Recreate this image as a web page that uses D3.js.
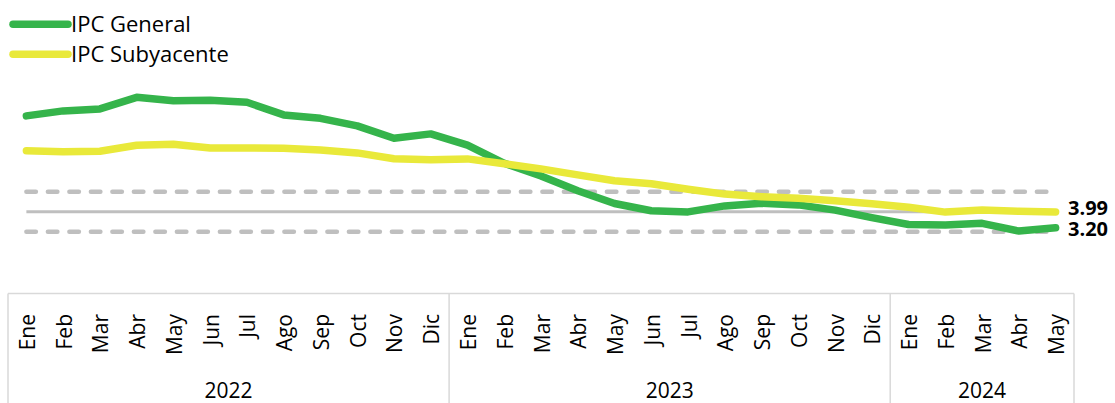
<!DOCTYPE html>
<html>
<head>
<meta charset="utf-8">
<script src="https://cdn.jsdelivr.net/npm/d3@7"></script>
<style>
  html, body { margin: 0; padding: 0; background: #fff; }
  svg { display: block; font-family: "Segoe UI", "Open Sans", "Noto Sans", sans-serif; }
</style>
</head>
<body>
<svg id="chart" width="1115" height="403"></svg>
<script>
// ---- data ----
const months = ["Ene","Feb","Mar","Abr","May","Jun","Jul","Ago","Sep","Oct","Nov","Dic",
                "Ene","Feb","Mar","Abr","May","Jun","Jul","Ago","Sep","Oct","Nov","Dic",
                "Ene","Feb","Mar","Abr","May"];
const years = [
  { label: "2022", count: 12 },
  { label: "2023", count: 12 },
  { label: "2024", count: 5 }
];
const ipcGeneral = [8.79, 9.04, 9.14, 9.72, 9.55, 9.57, 9.47, 8.84, 8.67, 8.29, 7.67, 7.89,
                    7.33, 6.42, 5.79, 5.05, 4.41, 4.05, 3.99, 4.29, 4.42, 4.34, 4.08, 3.70,
                    3.36, 3.33, 3.42, 3.03, 3.20];
const ipcSubyacente = [7.05, 7.00, 7.02, 7.32, 7.37, 7.19, 7.19, 7.17, 7.09, 6.94, 6.65, 6.60,
                       6.64, 6.40, 6.14, 5.84, 5.55, 5.40, 5.12, 4.88, 4.75, 4.67, 4.55, 4.40,
                       4.22, 3.98, 4.08, 4.02, 3.99];
const targetUpper = 5;
const targetCenter = 4;
const targetLower = 3;
const seriesNames = ["IPC General", "IPC Subyacente"];
const endLabels = ["3.99", "3.20"];

// ---- layout ----
const svg = d3.select("#chart");
const green = "#35b44b";
const yellow = "#e9e93a";
const gray = "#bfbfbf";
const axisGray = "#d9d9d9";

const idx = d3.range(months.length);
const x = d3.scaleBand().domain(idx).range([8, 1074]).padding(0);
const cx = i => x(i) + x.bandwidth() / 2;
const y = d3.scaleLinear().domain([0, 10]).range([291.7, 91.7]);

// target band lines
const bandLine = v => d3.line().x(i => cx(i)).y(() => y(v))(idx);
svg.append("path").attr("d", bandLine(targetCenter))
  .attr("fill", "none").attr("stroke", gray).attr("stroke-width", 3);
[targetUpper, targetLower].forEach(v => {
  svg.append("path").attr("d", bandLine(v))
    .attr("fill", "none").attr("stroke", gray).attr("stroke-width", 4.5)
    .attr("stroke-linecap", "round")
    .attr("stroke-dasharray", "9.5,12");
});

// data lines
const line = d3.line().x((d, i) => cx(i)).y(d => y(d));
svg.append("path").datum(ipcGeneral).attr("d", line)
  .attr("fill", "none").attr("stroke", green).attr("stroke-width", 7.5)
  .attr("stroke-linecap", "round").attr("stroke-linejoin", "round");
svg.append("path").datum(ipcSubyacente).attr("d", line)
  .attr("fill", "none").attr("stroke", yellow).attr("stroke-width", 7.5)
  .attr("stroke-linecap", "round").attr("stroke-linejoin", "round");

// end labels
const last = months.length - 1;
svg.append("text").attr("x", 1068).attr("y", y(ipcSubyacente[last]) + 2.8)
  .attr("font-size", 20).attr("font-weight", "bold").attr("fill", "#000")
  .text(endLabels[0]);
svg.append("text").attr("x", 1068).attr("y", y(ipcGeneral[last]) + 8.3)
  .attr("font-size", 20).attr("font-weight", "bold").attr("fill", "#000")
  .text(endLabels[1]);

// category axis box
const axisTop = 293.5;
svg.append("line").attr("x1", 8).attr("x2", 1074).attr("y1", axisTop).attr("y2", axisTop)
  .attr("stroke", axisGray).attr("stroke-width", 1.5);
let start = 0;
const bounds = [0];
years.forEach(yr => { start += yr.count; bounds.push(start); });
bounds.forEach(b => {
  const bx = b < months.length ? x(b) : x(months.length - 1) + x.bandwidth();
  svg.append("line").attr("x1", bx).attr("x2", bx).attr("y1", axisTop).attr("y2", 403)
    .attr("stroke", axisGray).attr("stroke-width", 1.5);
});

// month labels
svg.append("g").selectAll("text").data(months).join("text")
  .attr("transform", (d, i) => `translate(${cx(i) + 8.5},314) rotate(-90)`)
  .attr("text-anchor", "end")
  .attr("font-size", 21).attr("fill", "#000")
  .text(d => d);

// year labels
years.forEach((yr, k) => {
  const a = x(bounds[k]);
  const b = bounds[k + 1] < months.length ? x(bounds[k + 1]) : x(months.length - 1) + x.bandwidth();
  svg.append("text").attr("x", (a + b) / 2).attr("y", 398)
    .attr("text-anchor", "middle").attr("font-size", 21).attr("fill", "#000")
    .text(yr.label);
});

// legend
const legendColors = [green, yellow];
seriesNames.forEach((name, k) => {
  const ly = 24.3 + k * 30;
  svg.append("line").attr("x1", 13).attr("x2", 68).attr("y1", ly).attr("y2", ly)
    .attr("stroke", legendColors[k]).attr("stroke-width", 7.5).attr("stroke-linecap", "round");
  svg.append("text").attr("x", 71).attr("y", ly + 7.5)
    .attr("font-size", 22).attr("fill", "#000").text(name);
});
</script>
</body>
</html>
